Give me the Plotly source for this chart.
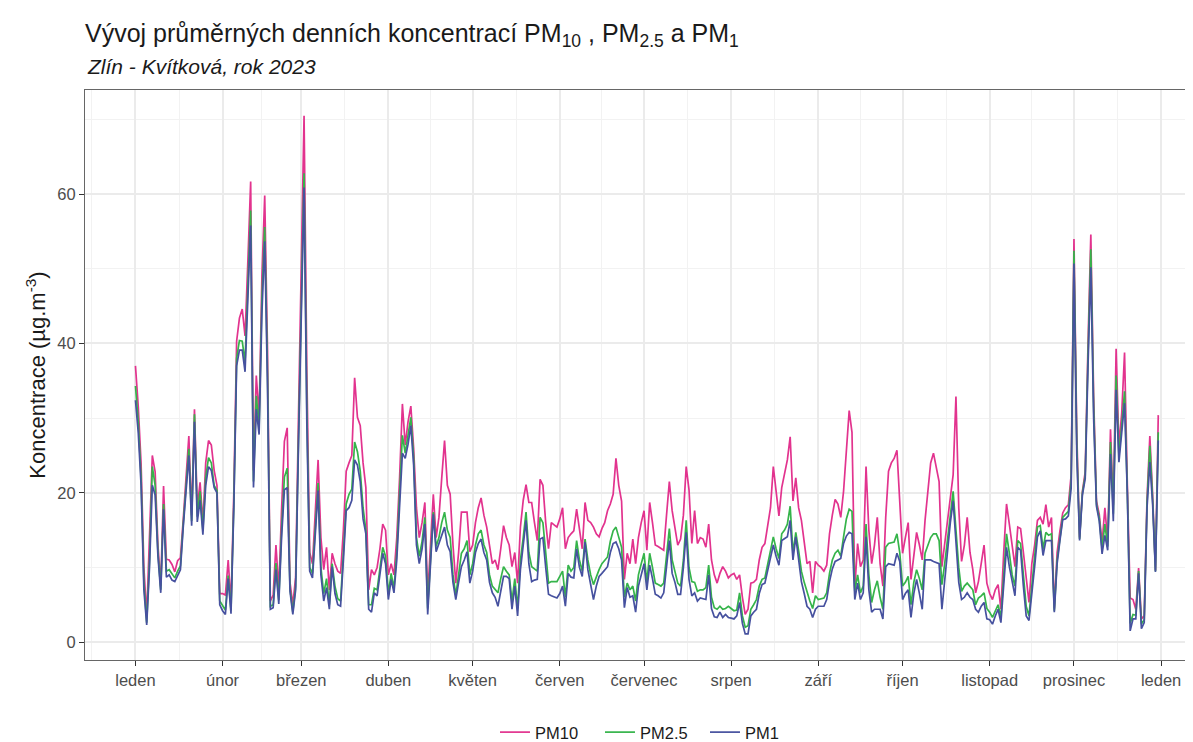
import pandas as pd
import plotly.graph_objects as go

# daily averages, Zlín - Kvítková 2023
pm10 = [
    # leden
    37.0, 31.5, 24.0, 10.0, 3.5, 13.0, 25.0, 22.8, 13.0, 7.5, 20.9, 11.1, 11.0, 10.4, 9.4, 10.9,
    11.3, 16.4, 22.0, 27.6, 17.0, 31.2, 18.0, 21.4, 16.0, 24.0, 27.0, 26.4, 23.0, 21.0, 6.5,
    # unor
    6.5, 6.3, 11.0, 5.0, 20.0, 40.3, 43.4, 44.6, 41.0, 51.0, 61.7, 23.0, 35.7, 30.2, 49.0, 59.8,
    39.0, 5.5, 6.3, 13.0, 7.0, 17.8, 26.9, 28.7, 8.0, 5.0, 8.7, 30.0,
    # brezen
    49.0, 70.5, 36.0, 12.0, 10.5, 17.0, 24.4, 14.0, 9.7, 12.7, 7.0, 11.9, 10.5, 9.5, 9.2, 15.0,
    22.9, 24.0, 25.0, 35.4, 30.1, 29.0, 24.0, 20.7, 7.0, 9.7, 9.0, 10.0, 12.5, 15.8, 15.0,
    # duben
    9.0, 10.5, 9.0, 14.0, 22.0, 31.9, 26.4, 29.5, 31.6, 26.0, 18.0, 14.0, 16.0, 18.7, 6.2,
    13.0, 19.8, 14.0, 16.7, 22.0, 27.0, 21.0, 19.8, 13.0, 7.9, 12.0, 17.4, 17.4, 17.4, 12.1,
    # kveten
    13.0, 16.0, 18.0, 19.3, 17.0, 15.4, 13.0, 10.5, 11.0, 9.7, 12.5, 15.6, 14.0, 13.0, 10.1, 12.0,
    7.9, 15.4, 19.0, 21.1, 18.7, 18.7, 16.0, 13.6, 21.8, 21.0, 16.0, 12.5, 16.0, 15.7, 15.4,
    # cerven
    16.5, 18.0, 12.5, 14.0, 14.5, 14.9, 17.8, 15.0, 12.5, 18.7, 16.3, 16.0, 15.4, 14.5, 14.1,
    15.2, 16.0, 17.6, 18.5, 19.8, 24.6, 21.0, 18.9, 8.4, 11.9, 10.5, 13.8, 10.5, 14.0, 16.0,
    # cervenec
    17.6, 12.3, 18.7, 16.0, 13.0, 12.8, 12.5, 12.3, 17.0, 21.5, 17.6, 15.0, 13.0, 13.8, 17.0, 23.5,
    20.4, 13.2, 17.6, 13.2, 14.0, 13.8, 12.7, 15.8, 11.0, 9.0, 7.9, 9.2, 10.1, 9.5, 8.6,
    # srpen
    9.0, 9.2, 8.4, 9.0, 6.0, 3.7, 4.4, 7.9, 8.0, 8.4, 11.0, 12.7, 13.2, 15.5, 18.0, 23.5,
    20.0, 16.9, 20.7, 22.5, 24.4, 27.5, 18.9, 22.0, 18.0, 16.3, 13.0, 10.5, 10.8, 6.6, 10.8,
    # zari
    10.3, 10.0, 9.5, 10.3, 14.5, 17.0, 19.1, 18.5, 16.7, 20.2, 26.0, 31.0, 28.1, 7.2, 13.2,
    10.1, 11.0, 23.5, 15.0, 10.5, 13.0, 16.7, 10.5, 7.5, 16.7, 22.9, 24.0, 24.6, 25.7, 19.3,
    # rijen
    11.9, 14.0, 16.0, 8.4, 12.0, 14.7, 13.0, 11.0, 16.3, 20.0, 24.0, 25.3, 23.5, 21.5, 10.1, 13.0,
    16.3, 19.0, 22.4, 32.9, 18.0, 10.8, 13.0, 16.7, 12.0, 9.7, 6.6, 8.1, 10.5, 13.0, 7.9,
    # listopad
    6.5, 5.7, 7.0, 7.7, 4.4, 12.0, 18.5, 15.8, 13.0, 10.1, 15.4, 15.2, 12.0, 8.4, 5.3,
    10.5, 13.0, 16.3, 16.7, 15.8, 18.4, 15.4, 16.7, 4.5, 12.0, 14.9, 17.3, 18.0, 18.4, 22.4,
    # prosinec
    54.0, 28.0, 14.0, 20.2, 22.8, 40.0, 54.6, 33.0, 18.9, 17.1, 13.2, 18.0, 13.4, 28.5, 18.4, 39.3,
    26.3, 30.7, 38.8, 21.0, 5.9, 5.7, 4.4, 9.9, 3.1, 3.5, 19.3, 27.6, 19.7, 9.6, 30.4,
]

pm25 = [
    34.3, 29.5, 22.0, 8.0, 2.6, 11.0, 23.5, 21.0, 12.0, 7.0, 18.5, 9.5, 9.7, 9.2, 8.6, 9.5,
    10.2, 15.8, 20.5, 25.9, 16.2, 30.5, 16.8, 20.2, 15.0, 22.0, 24.7, 24.0, 21.0, 20.3, 5.5,
    4.8, 4.3, 8.9, 4.2, 18.5, 38.0, 40.4, 40.3, 37.5, 48.0, 57.8, 21.5, 33.0, 28.8, 46.0, 55.6,
    36.0, 4.8, 5.0, 10.6, 5.6, 15.0, 22.1, 23.3, 7.2, 4.0, 7.5, 27.0,
    45.0, 62.8, 31.0, 10.0, 9.2, 15.0, 21.3, 10.0, 6.5, 8.5, 5.0, 10.5, 7.5, 5.8, 5.5, 12.0,
    18.5, 19.8, 20.5, 26.8, 25.5, 22.9, 18.0, 15.0, 5.0, 5.0, 7.2, 7.0, 10.0, 12.7, 11.5,
    6.5, 9.2, 7.2, 12.0, 19.0, 27.7, 25.3, 27.5, 30.1, 24.8, 14.0, 11.5, 13.5, 16.7, 4.5,
    11.0, 17.4, 12.8, 14.0, 16.0, 17.4, 15.0, 14.0, 9.0, 6.3, 9.0, 11.9, 12.5, 13.6, 9.0,
    10.5, 13.0, 14.5, 15.0, 13.0, 12.0, 9.0, 7.5, 7.0, 6.6, 8.5, 10.1, 9.5, 9.0, 5.5, 8.5,
    4.5, 11.0, 14.0, 17.4, 12.0, 10.1, 9.8, 9.5, 16.7, 16.0, 12.0, 7.9, 8.1, 8.1, 8.1,
    8.8, 9.5, 6.0, 10.3, 9.5, 10.0, 13.6, 11.0, 9.5, 13.8, 11.0, 9.0, 7.7, 8.8, 9.7,
    10.5, 11.0, 11.4, 13.5, 14.9, 15.4, 14.0, 12.7, 6.0, 7.9, 7.0, 7.5, 5.5, 9.0, 10.5,
    11.9, 8.0, 11.9, 10.0, 7.9, 7.7, 7.5, 7.9, 12.0, 15.2, 11.0, 9.5, 7.9, 7.5, 11.0, 16.3,
    10.0, 8.1, 8.0, 6.8, 7.0, 7.0, 7.3, 10.3, 6.0, 4.6, 4.4, 4.8, 4.4, 4.5, 4.8,
    4.5, 4.2, 4.3, 6.6, 3.5, 2.0, 2.2, 4.4, 5.0, 5.7, 7.5, 8.4, 8.6, 10.5, 12.7, 14.1,
    12.5, 11.2, 14.5, 15.0, 15.8, 18.2, 11.9, 14.7, 12.3, 9.5, 8.0, 6.6, 5.5, 4.5, 6.2,
    5.7, 5.8, 5.9, 6.6, 9.2, 11.0, 11.9, 12.3, 11.5, 14.1, 16.5, 17.8, 17.5, 6.8, 9.0,
    6.6, 7.5, 15.8, 9.0, 5.3, 7.0, 8.2, 6.0, 4.4, 12.7, 13.2, 13.3, 13.4, 14.5, 12.0,
    7.5, 8.0, 8.8, 5.0, 8.0, 9.7, 8.5, 7.0, 11.9, 13.0, 14.0, 14.5, 14.5, 13.6, 7.7, 10.5,
    13.6, 17.5, 20.2, 15.0, 10.0, 6.8, 7.5, 7.9, 7.5, 7.0, 5.0, 5.9, 6.2, 6.6, 4.5,
    4.0, 3.3, 4.2, 5.0, 3.3, 9.0, 14.5, 11.9, 9.0, 7.5, 13.6, 13.2, 8.5, 4.8, 3.5,
    7.5, 11.5, 15.4, 15.6, 12.5, 14.7, 14.3, 14.5, 4.2, 11.0, 14.1, 16.7, 17.1, 17.5, 21.5,
    52.4, 26.5, 13.8, 20.0, 22.3, 38.5, 52.6, 31.5, 18.5, 16.6, 12.5, 15.8, 12.8, 26.8, 17.2, 35.7,
    25.0, 29.0, 33.6, 20.0, 2.5, 3.7, 3.6, 9.5, 2.4, 3.0, 18.6, 26.3, 19.0, 9.5, 28.1,
]

pm1 = [
    32.4, 28.0, 21.0, 7.0, 2.3, 10.0, 21.0, 19.7, 11.5, 6.6, 17.8, 8.7, 9.0, 8.3, 8.1, 8.9,
    9.7, 15.4, 19.7, 25.0, 15.6, 29.5, 16.1, 19.0, 14.4, 21.0, 23.5, 23.0, 20.7, 20.0, 5.0,
    4.2, 3.7, 8.5, 3.8, 18.0, 37.0, 39.1, 39.1, 36.2, 46.0, 55.8, 20.7, 31.2, 27.8, 44.0, 53.7,
    34.0, 4.4, 4.6, 9.7, 5.1, 14.0, 20.4, 20.7, 6.8, 3.7, 7.0, 26.0,
    43.0, 60.9, 29.0, 9.5, 8.6, 14.0, 20.3, 9.0, 5.5, 7.3, 4.4, 10.1, 6.5, 5.0, 4.8, 11.0,
    17.6, 18.0, 19.0, 24.4, 23.7, 21.5, 16.5, 14.5, 4.4, 4.0, 6.6, 6.2, 9.0, 11.9, 10.5,
    5.7, 8.4, 6.6, 11.0, 18.0, 25.3, 24.6, 26.5, 29.0, 23.7, 13.0, 10.5, 12.5, 15.8, 3.7,
    10.0, 17.1, 12.1, 13.2, 14.5, 15.4, 13.0, 12.1, 8.0, 5.7, 8.0, 10.1, 11.0, 12.1, 7.9,
    9.5, 12.0, 13.2, 13.8, 12.0, 11.0, 8.0, 6.6, 6.0, 4.8, 7.0, 8.8, 8.8, 8.5, 4.4, 7.5,
    3.5, 9.7, 13.0, 16.3, 10.5, 8.1, 8.3, 8.4, 13.8, 14.0, 10.0, 6.4, 6.2, 6.0, 5.9,
    6.5, 7.5, 4.8, 9.2, 8.7, 8.6, 12.5, 10.0, 8.8, 13.4, 9.7, 7.5, 5.7, 7.5, 8.8,
    9.2, 9.7, 10.1, 12.0, 13.2, 13.4, 12.5, 11.0, 4.6, 7.3, 6.0, 6.2, 4.0, 7.5, 9.0,
    10.5, 7.0, 10.3, 8.5, 6.4, 6.2, 5.9, 6.6, 10.5, 13.6, 9.2, 8.0, 6.4, 6.4, 10.0, 14.7,
    8.4, 6.2, 6.6, 5.5, 5.9, 5.8, 5.7, 9.0, 4.5, 3.4, 3.3, 4.0, 3.3, 3.7, 3.3,
    3.2, 3.1, 3.5, 5.3, 2.5, 1.1, 1.1, 3.5, 4.0, 4.4, 6.5, 7.7, 7.9, 9.5, 11.4, 13.0,
    11.5, 10.3, 13.6, 13.8, 14.1, 16.3, 11.0, 14.1, 10.8, 8.1, 6.5, 4.8, 4.4, 3.3, 4.4,
    4.8, 4.8, 4.8, 5.7, 8.1, 9.8, 10.8, 11.0, 11.2, 13.2, 14.2, 14.7, 14.5, 5.7, 7.9,
    5.7, 6.6, 14.1, 7.0, 4.0, 4.4, 4.4, 4.4, 3.1, 10.1, 10.5, 10.4, 10.3, 11.9, 10.8,
    5.7, 6.5, 7.0, 3.3, 6.5, 8.4, 6.5, 4.4, 11.0, 11.0, 11.0, 10.8, 10.7, 10.5, 4.4, 8.5,
    11.9, 16.0, 18.9, 13.0, 8.0, 5.7, 6.0, 6.6, 6.0, 5.7, 4.4, 4.0, 4.8, 5.3, 3.1,
    3.0, 2.4, 3.5, 4.4, 2.6, 7.5, 12.7, 10.1, 8.0, 6.2, 12.7, 12.3, 7.5, 3.5, 2.9,
    6.2, 10.1, 14.1, 14.9, 11.6, 13.6, 13.6, 13.6, 4.0, 10.5, 13.6, 16.4, 16.5, 16.9, 20.6,
    50.7, 25.0, 13.6, 19.7, 21.9, 37.0, 50.2, 30.0, 18.2, 16.2, 11.8, 14.3, 12.3, 25.2, 16.2, 33.8,
    24.1, 28.1, 32.0, 19.7, 1.5, 3.1, 3.1, 9.2, 1.8, 2.6, 18.0, 24.1, 18.4, 9.4, 27.0,
]

dates = pd.date_range("2023-01-01", "2023-12-31", freq="D")
series_names = ["PM10", "PM2.5", "PM1"]
series_colors = ["#E2338E", "#35B44A", "#46519F"]

month_starts = pd.date_range("2023-01-01", "2024-01-01", freq="MS")
month_labels = ["leden", "únor", "březen", "duben", "květen", "červen", "červenec",
                "srpen", "září", "říjen", "listopad", "prosinec", "leden"]
y_ticks = [0, 20, 40, 60]
y_minor = [10, 30, 50, 70]

# minor gridlines halfway between month breaks (like ggplot)
edges = pd.date_range("2022-12-01", "2024-02-01", freq="MS")
x_minor = [edges[i] + (edges[i + 1] - edges[i]) / 2 for i in range(len(edges) - 1)]

font = "Liberation Sans, Arial, sans-serif"

fig = go.Figure()
for name, vals, col in zip(series_names, [pm10, pm25, pm1], series_colors):
    if len(vals) != len(dates):
        raise ValueError(name + " has " + str(len(vals)) + " values")
    fig.add_trace(go.Scatter(x=dates, y=vals, mode="lines", name=name,
                             line=dict(color=col, width=1.7)))

fig.update_layout(
    width=1193, height=742,
    margin=dict(l=77, r=0, t=82, b=80),
    paper_bgcolor="white", plot_bgcolor="white",
    font=dict(family=font, color="#1a1a1a"),
    title=dict(text="Vývoj průměrných denních koncentrací PM<sub>10</sub> , PM<sub>2.5</sub> a PM<sub>1</sub>",
               x=0, xref="paper", xanchor="left", y=0.966, yref="container", yanchor="middle",
               font=dict(size=25, color="#1a1a1a")),
    showlegend=True,
    legend=dict(orientation="h", x=0.5085, xanchor="center", y=-0.127, yanchor="middle",
                font=dict(size=16.5, color="#1a1a1a"), itemwidth=30,
                entrywidth=60, entrywidthmode="pixels"),
)
fig.add_annotation(text="<i>Zlín - Kvítková, rok 2023</i>", xref="paper", yref="paper",
                   x=0, y=1.041, xanchor="left", yanchor="middle", showarrow=False,
                   font=dict(size=21, color="#1a1a1a"))

fig.update_xaxes(
    range=["2022-12-14 01:00", "2024-01-15 05:00"],
    tickmode="array", tickvals=month_starts, ticktext=month_labels,
    ticks="outside", ticklen=5, tickcolor="#333333", tickwidth=1,
    tickfont=dict(size=16.5, color="#4d4d4d"),
    showgrid=True, gridcolor="#ebebeb", gridwidth=1.5,
    minor=dict(tickmode="array", tickvals=x_minor, showgrid=True, gridcolor="#f2f2f2", gridwidth=1),
    showline=True, linecolor="#666666", linewidth=1, mirror=True, zeroline=False,
)
fig.update_yaxes(
    range=[-2.4, 73.95],
    tickmode="array", tickvals=y_ticks,
    ticks="outside", ticklen=5, tickcolor="#333333", tickwidth=1,
    tickfont=dict(size=16.5, color="#4d4d4d"),
    showgrid=True, gridcolor="#ebebeb", gridwidth=1.5,
    minor=dict(tickmode="array", tickvals=y_minor, showgrid=True, gridcolor="#f2f2f2", gridwidth=1),
    showline=True, linecolor="#666666", linewidth=1, mirror=True, zeroline=False,
    title=dict(text="Koncentrace (µg.m<sup>-3</sup>)", font=dict(size=22, color="#1a1a1a"), standoff=5),
)

fig.write_html("out.html")
